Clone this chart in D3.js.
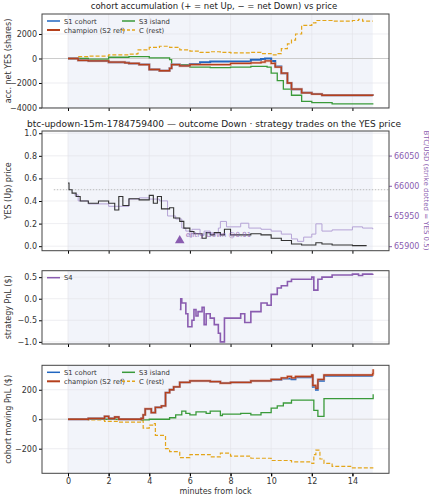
<!DOCTYPE html><html><head><meta charset="utf-8">
<script src="https://cdn.jsdelivr.net/npm/d3@7"></script>
<style>body{margin:0;background:#fff}text{font-family:"DejaVu Sans",sans-serif}</style></head><body>
<svg id="c" width="429" height="500"></svg>
<script>
// ---- data ----
const accC=[[0,0],[0.5,150],[1,200],[2,300],[3,350],[3.4,400],[3.45,700],[3.6,700],[4,900],[4.5,1000],[5,900],[5.5,700],[6,600],[6.5,500],[7,550],[7.5,500],[8,450],[9,500],[9.5,400],[10,300],[10.3,400],[10.5,800],[10.8,1200],[11,1500],[11.2,2000],[11.5,2700],[12,2900],[12.2,3100],[13,3050],[14,3100],[14.3,3200],[14.5,3050],[15,3050]];
const accChamp=[[0,0],[0.5,-150],[1,-200],[2,-300],[2.8,-350],[3,-400],[3.5,-500],[4,-900],[4.5,-1000],[5,-800],[5.1,-500],[5.5,-600],[6,-500],[7,-500],[8,-400],[9,-350],[9.5,-300],[9.7,-200],[10,-400],[10.2,-700],[10.5,-1200],[10.8,-2000],[11,-2500],[11.5,-2800],[12,-2900],[12.5,-3000],[15,-3050]];
const accS1=[[0,0],[0.5,-150],[1,-200],[2,-300],[2.8,-350],[3,-400],[3.5,-500],[4,-900],[4.5,-1000],[5,-800],[5.1,-500],[5.5,-600],[6,-450],[6.5,-300],[7,-250],[8,-250],[9,-100],[9.5,-50],[9.7,0],[10,-200],[10.2,-650],[10.5,-1200],[10.8,-2000],[11,-2500],[11.5,-2800],[12,-2900],[12.5,-3000],[15,-3050]];
const accS3=[[0,0],[1,-50],[2,100],[3,150],[4,50],[5,-100],[5.1,-500],[6,-700],[7,-750],[8,-700],[9,-650],[9.8,-700],[10,-1200],[10.3,-1800],[10.6,-2500],[11,-3000],[11.5,-3500],[12,-3600],[13,-3700],[15,-3750]];
const yesPrice=[[0,0.56],[0.05,0.5],[0.2,0.47],[0.4,0.44],[0.6,0.4],[1,0.38],[1.5,0.4],[2,0.38],[2.3,0.32],[2.5,0.44],[2.7,0.36],[3,0.42],[3.5,0.41],[4,0.45],[4.2,0.38],[4.4,0.44],[4.6,0.33],[5,0.34],[5.2,0.25],[5.5,0.22],[5.7,0.16],[6,0.13],[6.2,0.11],[6.6,0.07],[6.8,0.12],[7,0.1],[7.2,0.12],[7.5,0.1],[7.7,0.15],[8,0.1],[9,0.11],[9.5,0.1],[10,0.07],[10.5,0.05],[11,0.02],[11.5,0.01],[12,0.01],[12.2,0.03],[12.5,0.02],[13,0.01],[14,0.005],[14.7,0.005]];
const btc=[[0.3,65985],[0.5,65975],[1,65970],[2,65966],[3,65978],[3.5,65980],[4,65978],[4.5,65975],[4.9,65950],[5.3,65945],[5.6,65930],[5.8,65925],[6,65915],[6.1,65928],[6.5,65918],[6.7,65925],[7,65922],[7.4,65930],[7.5,65941],[7.8,65932],[8.5,65938],[8.9,65930],[9.5,65928],[10,65925],[10.5,65920],[11,65912],[11.3,65908],[11.6,65915],[12,65920],[12.2,65937],[12.5,65925],[13,65927],[14,65932],[14.5,65930],[15,65928]];
const strike=65994;
const s4=[[5.5,-0.25],[5.55,0],[5.6,-0.1],[5.8,-0.35],[5.9,-0.65],[6.1,-0.5],[6.2,-0.25],[6.3,-0.4],[6.4,-0.3],[6.6,-0.2],[6.7,-0.6],[6.8,-0.35],[7,-0.45],[7.2,-0.6],[7.4,-0.8],[7.5,-1.0],[7.7,-0.45],[8,-0.45],[8.5,-0.35],[8.7,-0.55],[9,-0.3],[9.5,-0.1],[9.8,-0.15],[10,0.1],[10.3,0.25],[10.5,0.3],[10.8,0.4],[11,0.45],[12,0.5],[12.1,0.2],[12.3,0.45],[12.5,0.5],[13,0.55],[14,0.57],[14.3,0.54],[14.5,0.57],[15,0.58]];
const mpChamp=[[0,0],[1,5],[1.8,20],[2,5],[2.3,15],[2.5,0],[3.6,5],[3.7,30],[3.8,70],[4.1,45],[4.3,80],[4.6,90],[4.8,180],[5,200],[5.2,220],[5.5,250],[6,260],[7,255],[7.5,245],[8,250],[9,260],[10,270],[10.5,280],[10.8,290],[11,280],[11.2,290],[12,300],[12.05,230],[12.2,210],[12.3,270],[12.6,300],[15,310],[15.02,340]];
const mpS1=[[0,0],[1,5],[1.8,20],[2,5],[2.3,15],[2.5,0],[3.6,5],[3.7,30],[3.8,70],[4.1,45],[4.3,80],[4.6,90],[4.8,180],[5,200],[5.2,220],[5.5,250],[6,260],[7,255],[7.5,245],[8,250],[9,260],[10,268],[10.5,275],[11,270],[11.2,285],[12,295],[12.05,220],[12.2,200],[12.3,260],[12.6,295],[15,295]];
const mpS3=[[0,0],[3.6,-5],[4,0],[5,10],[5.3,30],[5.6,55],[5.8,40],[6,30],[6.3,50],[6.8,40],[7,55],[7.5,25],[7.6,35],[8.5,40],[9,30],[9.5,45],[10,75],[10.3,90],[10.6,110],[11,130],[12,130],[12.1,60],[12.3,20],[12.6,140],[15,140],[15.02,170]];
const mpC=[[0,0],[1,-5],[1.8,-15],[2.5,-20],[3.6,-10],[3.7,-60],[4,-40],[4.2,-30],[4.3,-110],[4.8,-200],[5,-220],[5.5,-260],[6,-240],[7,-255],[7.5,-230],[8,-250],[9,-265],[10,-280],[11,-290],[12,-300],[12.1,-240],[12.2,-210],[12.4,-270],[12.6,-300],[13,-320],[14,-330],[15,-335]];
const xTicks=[0,2,4,6,8,10,12,14];
// ---- drawing ----
const svg=d3.select("#c");
const L=42,R=389;
const x=d3.scaleLinear().domain([-1.28,15.8]).range([L,R]);
const col={s1:"#2166c0",ch:"#b5401c",s3:"#3a9a3a",c:"#e3a51a",s4:"#8a5cb0",btc:"#b5a3d6"};
function panel(top,bot,dom,ticks,fmt,ylab){
  const y=d3.scaleLinear().domain(dom).range([bot,top]);
  const g=svg.append("g");
  g.append("rect").attr("x",x(0)).attr("y",top).attr("width",x(15)-x(0)).attr("height",bot-top).attr("fill","#f2f4fa");
  g.selectAll(".gy").data(ticks).join("line").attr("x1",L).attr("x2",R).attr("y1",d=>y(d)).attr("y2",d=>y(d)).attr("stroke","#e2e2e8").attr("stroke-width",0.6);
  g.selectAll(".gx").data(xTicks).join("line").attr("x1",d=>x(d)).attr("x2",d=>x(d)).attr("y1",top).attr("y2",bot).attr("stroke","#e2e2e8").attr("stroke-width",0.6);
  const ay=g.append("g").attr("transform",`translate(${L},0)`).call(d3.axisLeft(y).tickValues(ticks).tickFormat(fmt).tickSize(3).tickPadding(2));
  ay.select(".domain").remove();
  ay.selectAll("text").attr("font-size",8).attr("fill","#333");
  const ax=g.append("g").attr("transform",`translate(0,${bot})`).call(d3.axisBottom(x).tickValues(xTicks).tickFormat("").tickSize(3));
  ax.select(".domain").remove();
  g.append("text").attr("transform",`translate(11,${(top+bot)/2}) rotate(-90)`).attr("text-anchor","middle").attr("font-size",8).attr("fill","#333").text(ylab);
  return {y,g,top,bot,frame(){svg.append("rect").attr("x",L).attr("y",top).attr("width",R-L).attr("height",bot-top).attr("fill","none").attr("stroke","#444").attr("stroke-width",1);}};
}
function line(p,data,c,w,dash,op){
  const ln=d3.line().x(d=>x(d[0])).y(d=>p.y(d[1])).curve(d3.curveStepAfter);
  return svg.append("path").datum(data).attr("d",ln).attr("fill","none").attr("stroke",c).attr("stroke-width",w).attr("stroke-dasharray",dash||null).attr("opacity",op||1);
}
const fmtK=d=>d3.format(",")(d).replace(",","").replace("-","−");
// panel 1
const p1=panel(14,108,[-4040,3630],[-4000,-2000,0,2000],fmtK,"acc. net YES (shares)");
svg.append("line").attr("x1",L).attr("x2",R).attr("y1",p1.y(0)).attr("y2",p1.y(0)).attr("stroke","#ccc").attr("stroke-width",1);
line(p1,accC,col.c,1.2,"4,2");
line(p1,accS3,col.s3,1.3);
line(p1,accS1,col.s1,2);
line(p1,accChamp,"#e39a85",2.6,null,0.6);
line(p1,accChamp,col.ch,1.3);
p1.frame();
svg.append("text").attr("x",214).attr("y",9).attr("text-anchor","middle").attr("font-size",8.5).attr("fill","#222").text("cohort accumulation (+ = net Up, − = net Down) vs price");
function legend(top,items){
  items.forEach((it,i)=>{
    const cx=L+5+(i%2)*75, cy=top+7+Math.floor(i/2)*9;
    svg.append("line").attr("x1",cx).attr("x2",cx+13).attr("y1",cy).attr("y2",cy).attr("stroke",it.c).attr("stroke-width",it.w||1.5).attr("stroke-dasharray",it.d||null);
    svg.append("text").attr("x",cx+17).attr("y",cy+2.5).attr("font-size",6.8).attr("fill","#333").text(it.t);
  });
}
const legItems=[{t:"S1 cohort",c:col.s1},{t:"S3 island",c:col.s3},{t:"champion (S2 ref)",c:col.ch,w:2},{t:"C (rest)",c:col.c,d:"3,2"}];
legend(14,legItems);
// panel 2
const p2=panel(131,250.7,[-0.04,1.02],[0,0.2,0.4,0.6,0.8,1.0],d3.format(".1f"),"YES (Up) price");
const yb=d3.scaleLinear().domain([65900,66050]).range([p2.y(0),p2.y(0)-90.6]);
svg.append("line").attr("x1",x(-0.7)).attr("x2",R).attr("y1",p2.y(0.5)).attr("y2",p2.y(0.5)).attr("stroke","#aaa").attr("stroke-width",0.8).attr("stroke-dasharray","1.5,1.5");
svg.append("path").datum(btc).attr("d",d3.line().x(d=>x(d[0])).y(d=>yb(d[1])).curve(d3.curveStepAfter)).attr("fill","none").attr("stroke",col.btc).attr("stroke-width",1);
line(p2,yesPrice,"#333",1.1);
svg.append("path").attr("d",d3.symbol(d3.symbolTriangle,40)()).attr("transform",`translate(${x(5.5)},${p2.y(0.05)})`).attr("fill",col.s4);
svg.append("text").attr("x",x(5.5)+6).attr("y",p2.y(0.08)).attr("font-size",7).attr("fill",col.s4).attr("opacity",0.8).text("entry Down @0.91");
const ar=svg.append("g").attr("transform",`translate(${R},0)`).call(d3.axisRight(yb).tickValues([65900,65950,66000,66050]).tickSize(3).tickPadding(2).tickFormat(d3.format("d")));
ar.select(".domain").remove();
ar.selectAll("text").attr("font-size",8).attr("fill",col.s4);ar.selectAll("line").attr("stroke",col.s4);
svg.append("text").attr("transform",`translate(424,${(131+250)/2}) rotate(90)`).attr("text-anchor","middle").attr("font-size",7).attr("fill",col.s4).text("BTC/USD (strike dotted = YES 0.5)");
p2.frame();
svg.append("text").attr("x",214).attr("y",127).attr("text-anchor","middle").attr("font-size",9).attr("fill","#222").text("btc-updown-15m-1784759400 — outcome Down · strategy trades on the YES price");
// panel 3
const p3=panel(270.7,344,[-1.05,0.65],[-1.0,-0.5,0.0,0.5],d=>d3.format(".1f")(d).replace("-","−"),"strategy PnL ($)");
line(p3,s4,col.s4,1.6);
p3.frame();
legend(270.7,[{t:"S4",c:col.s4}]);
// panel 4
const p4=panel(365.3,473.3,[-367,366],[-200,0,200],d=>String(d).replace("-","−"),"cohort moving PnL ($)");
svg.append("line").attr("x1",L).attr("x2",R).attr("y1",p4.y(0)).attr("y2",p4.y(0)).attr("stroke","#ddd").attr("stroke-width",1);
line(p4,mpC,col.c,1.2,"4,2");
line(p4,mpS3,col.s3,1.3);
line(p4,mpS1,col.s1,1.8);
line(p4,mpChamp,"#e39a85",2.6,null,0.6);
line(p4,mpChamp,col.ch,1.3);
p4.frame();
legend(365.3,legItems);
const ab=svg.append("g").attr("transform",`translate(0,473.3)`).call(d3.axisBottom(x).tickValues(xTicks).tickSize(3).tickPadding(2));
ab.select(".domain").remove();ab.selectAll("text").attr("font-size",8).attr("fill","#333");
svg.append("text").attr("x",(L+R)/2).attr("y",494).attr("text-anchor","middle").attr("font-size",8).attr("fill","#333").text("minutes from lock");
</script></body></html>
